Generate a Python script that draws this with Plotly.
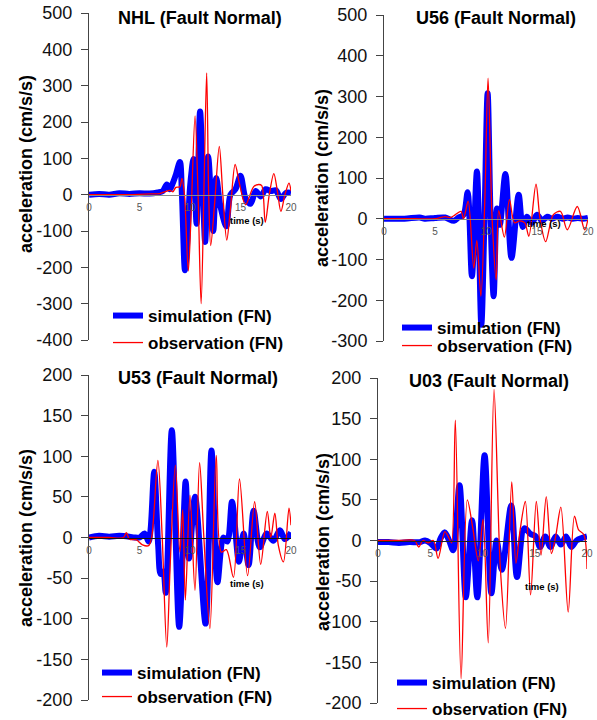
import plotly.graph_objects as go

W, H = 597, 720

# ---------------- data (time in s, acceleration in cm/s/s) ----------------
panel_titles = ["NHL (Fault Normal)", "U56 (Fault Normal)", "U53 (Fault Normal)", "U03 (Fault Normal)"]
legend_names = ["simulation (FN)", "observation (FN)"]
y_title = "acceleration (cm/s/s)"
x_ticks = [0, 5, 10, 15, 20]
y_ranges = [[-400, 500], [-300, 500], [-200, 200], [-200, 200]]
y_dticks = [100, 100, 50, 50]

nhl_sim_t = [0, 1, 2, 3, 4, 5, 6, 6.8, 7.3, 7.7, 8.0, 8.3, 8.6, 9.0, 9.2, 9.5, 9.75, 10.0, 10.35, 10.65,
             11.0, 11.5, 11.8, 12.3, 12.6, 13.0, 13.6, 14.0, 14.5, 15.0, 15.5, 16.0, 16.5, 17.0, 17.5, 18.0,
             18.5, 19.0, 19.5, 20.0]
nhl_sim_v = [0, 2, 0, 4, 2, 4, 3, 6, 10, 28, 15, 32, 55, 90, 0, -208, -120, 20, 98, -80,
             229, -130, 105, -100, 46, -30, -87, 0, 15, 52, -10, -25, 10, -5, 15, 10,
             12, -12, 5, 5]
nhl_obs_t = [0, 2, 4, 6, 7.0, 7.5, 8.0, 8.3, 8.6, 9.0, 9.2, 9.45, 9.83, 10.1, 10.5, 10.8, 11.1, 11.4, 11.65, 11.85,
             12.05, 12.45, 12.9, 13.25, 13.64, 14.0, 14.47, 14.9, 15.5, 16.3, 16.8, 17.1, 17.45, 17.85, 18.3,
             18.65, 19.0, 19.4, 19.8, 20.0]
nhl_obs_v = [0, 0, 0, 2, 3, 8, 12, 8, 20, 22, 45, 0, -210, -60, 217, 0, -300, 40, 335, 0,
             -140, -20, 133, 0, -125, -40, 83, 30, -28, 22, 28, 25, -76, 0, 58,
             10, -46, 0, 32, 10]

u56_sim_t = [0, 2, 3.5, 4, 5, 6, 6.85, 7.3, 7.8, 8.2, 8.62, 9.11, 9.54, 9.85, 10.16, 10.45, 10.75, 11.08, 11.35, 11.9,
             12.5, 13.2, 13.6, 14.0, 14.5, 15.0, 15.5, 16.0, 16.5, 17.0, 17.5, 18.0, 18.5, 19.0, 19.5, 20.0]
u56_sim_v = [0, 0, 3, 0, 2, 3, -5, 3, 10, 65, -141, 116, -260, 0, 308, 0, -190, 25, -15, 110,
             -96, 59, -20, 5, -10, 10, -5, 5, 0, 5, 0, 3, 0, 2, 0, 2]
u56_obs_t = [0, 3, 5, 5.5, 6.0, 6.5, 7.0, 7.55, 7.8, 8.25, 8.8, 9.1, 9.5, 9.9, 10.2, 10.6, 11.0, 11.25, 11.8, 12.3,
             12.8, 13.3, 13.8, 14.2, 14.9, 15.3, 15.85, 16.6, 17.3, 17.97, 18.95, 19.67, 20.0]
u56_obs_v = [0, 0, 0, 3, 5, 3, 10, 18, 0, 43, -121, -53, -190, 60, 345, 0, -150, 20, -45, 47,
             -10, -5, -10, -43, 85, 0, -56, 10, 18, -27, 30, -27, 0]

u53_sim_t = [0, 1, 2, 3, 4, 4.5, 5.0, 5.5, 5.9, 6.1, 6.46, 6.85, 7.1, 7.35, 7.6, 8.2, 8.93, 9.57, 9.9, 10.5,
             11.54, 12.13, 12.72, 13.3, 13.7, 14.16, 14.85, 15.3, 15.8, 16.3, 16.9, 17.6, 18.25, 18.9, 19.4, 20.0]
u53_sim_v = [0, 2, 1, 2, 1, 0, 0, 5, -5, 10, 81, -10, -45, -42, -68, 132, -110, 69, -26, 50,
             -106, 107, -55, 0, -5, 44, -30, 5, -34, 33, -12, 5, -4, 9, -2, 6]
u53_obs_t = [0, 2, 3.4, 3.7, 4.0, 4.7, 5.3, 5.9, 6.2, 6.82, 7.25, 7.7, 8.05, 8.55, 9.0, 9.28, 9.54, 10.0, 10.49, 10.95,
             11.35, 11.97, 12.6, 13.1, 13.6, 14.3, 14.9, 15.7, 16.4, 17.0, 17.65, 18.0, 18.4, 18.75, 19.25, 19.8, 20.0]
u53_obs_v = [0, 0, 0, 6, -2, -3, -9, -10, 0, 95, 0, -135, -30, 89, -18, 34, -77, 52, -65, 92,
             5, -112, 101, -18, -15, -49, 72, -47, 44, -33, 32, 0, 30, -10, -30, 36, 15]

u03_sim_t = [0, 1, 2, 3, 4, 4.5, 5.0, 5.6, 6.0, 6.4, 6.8, 7.2, 7.8, 8.4, 9.0, 9.5, 10.2, 10.85, 11.35, 11.85,
             12.75, 13.3, 14.0, 14.6, 15.1, 15.5, 16.0, 16.5, 17.0, 17.5, 18.0, 18.5, 19.0, 19.5, 20.0]
u03_sim_v = [-2, -2, -3, -2, -2, 0, -3, -10, 3, 10, 0, -12, 68, -70, 25, -70, 105, -65, 0, -36,
             43, -45, 15, 8, 5, -8, 5, -8, 5, -5, 5, -8, 0, 3, 5]
u03_obs_t = [0, 2, 3.5, 3.9, 4.3, 4.8, 5.3, 5.75, 6.4, 6.9, 7.05, 7.4, 7.95, 8.55, 9.05, 9.6, 10.05, 10.55, 11.1, 11.7,
             12.2, 12.8, 13.2, 13.6, 14.1, 14.6, 15.15, 15.6, 16.1, 16.6, 17.0, 17.5, 18.2, 18.8, 19.2, 19.7, 20.0]
u03_obs_v = [0, 0, 0, -8, 0, -3, 0, -22, 11, 0, -3, 148, -170, 50, 17, -25, 26, -126, 186, -32,
             -108, 72, -28, 13, 48, -67, 48, -18, 54, -16, 5, 41, -88, 30, 13, 7, -35]

sim_series = [(nhl_sim_t, nhl_sim_v), (u56_sim_t, u56_sim_v), (u53_sim_t, u53_sim_v), (u03_sim_t, u03_sim_v)]
obs_series = [(nhl_obs_t, nhl_obs_v), (u56_obs_t, u56_obs_v), (u53_obs_t, u53_obs_v), (u03_obs_t, u03_obs_v)]

# ---------------- layout geometry (window pixels) ----------------
# plot boxes: left, right, top, bottom
boxes = [(89, 291, 13, 340), (384, 588, 15, 341), (89, 291, 375, 700), (378, 587, 378, 703)]
title_pos = [(200, 18), (496, 18), (198, 378), (489, 381)]
ytitle_pos = [(26, 164), (322, 178), (26, 538), (323, 542)]
time_lbl = [(15.6, -72), (15.7, -12), (15.6, -56), (15.7, -56)]
legend_pos = [((108, 316), (108, 343)), ((397, 328), (397, 346)),
              ((97, 673), (97, 697)), ((392, 683), (392, 709))]
xaxis_colors = ["#888888", "#888888", "#111111", "#222222"]


def fx(p):
    return p / W


def fy(p):
    return 1 - p / H


FONT = "Liberation Sans, Arial, sans-serif"
BLUE = "#0000FF"
RED = "#FF0000"

fig = go.Figure()
layout = dict(
    template="none",
    width=W, height=H,
    margin=dict(l=0, r=0, t=0, b=0, autoexpand=False),
    paper_bgcolor="white", plot_bgcolor="white",
    font=dict(family=FONT, color="#000000"),
    showlegend=True,
    annotations=[],
)

for i in range(4):
    n = i + 1
    xa = "x" if n == 1 else f"x{n}"
    ya = "y" if n == 1 else f"y{n}"
    l, r, t, b = boxes[i]
    xd = [fx(l), fx(r)]
    yd = [fy(b), fy(t)]
    ymin, ymax = y_ranges[i]
    zero_pos = yd[0] + (0 - ymin) / (ymax - ymin) * (yd[1] - yd[0])
    yvals = list(range(ymin, ymax + 1, y_dticks[i]))

    lg_sim = "legend" if 2 * i + 1 == 1 else f"legend{2 * i + 1}"
    lg_obs = f"legend{2 * i + 2}"

    fig.add_trace(go.Scatter(
        x=sim_series[i][0], y=sim_series[i][1], mode="lines",
        line=dict(color=BLUE, width=6, shape="spline", smoothing=0.9),
        name=legend_names[0], xaxis=xa, yaxis=ya, legend=lg_sim, showlegend=True))
    fig.add_trace(go.Scatter(
        x=obs_series[i][0], y=obs_series[i][1], mode="lines",
        line=dict(color=RED, width=1.3, shape="spline", smoothing=0.9),
        name=legend_names[1], xaxis=xa, yaxis=ya, legend=lg_obs, showlegend=True))

    xkey = "xaxis" if n == 1 else f"xaxis{n}"
    ykey = "yaxis" if n == 1 else f"yaxis{n}"
    layout[xkey] = dict(
        domain=xd, anchor="free", position=zero_pos, range=[0, 20],
        tickvals=x_ticks, ticktext=[str(v) for v in x_ticks],
        showline=True, linecolor=xaxis_colors[i], linewidth=1.2,
        ticks="outside", ticklen=3, tickcolor="rgba(0,0,0,0)",
        tickfont=dict(size=10, color="#555555", family=FONT),
        ticklabeloverflow="allow",
        showgrid=False, zeroline=False, fixedrange=True, automargin=False,
    )
    layout[ykey] = dict(
        domain=yd, anchor=xa, range=[ymin, ymax],
        tickvals=yvals, ticktext=[str(v) for v in yvals],
        showline=True, linecolor="#444444", linewidth=1,
        ticks="outside", ticklen=7, tickcolor="#444444", ticklabelstandoff=5,
        tickfont=dict(size=18, color="#111111", family=FONT),
        ticklabeloverflow="allow",
        showgrid=False, zeroline=False, fixedrange=True, automargin=False,
    )
    for j, lg in enumerate([lg_sim, lg_obs]):
        px, py = legend_pos[i][j]
        layout[lg] = dict(
            x=fx(px), y=fy(py), xanchor="left", yanchor="middle",
            xref="paper", yref="paper", visible=True,
            bgcolor="rgba(0,0,0,0)", borderwidth=0,
            font=dict(size=17, family=FONT, weight="bold", color="#000000"),
        )
    tx, ty = title_pos[i]
    layout["annotations"].append(dict(
        text=panel_titles[i], x=fx(tx), y=fy(ty), xref="paper", yref="paper",
        xanchor="center", yanchor="middle", showarrow=False,
        font=dict(size=18, family=FONT, weight="bold", color="#000000")))
    yx, yy = ytitle_pos[i]
    layout["annotations"].append(dict(
        text=y_title, x=fx(yx), y=fy(yy), xref="paper", yref="paper",
        xanchor="center", yanchor="middle", showarrow=False, textangle=-90,
        font=dict(size=18, family=FONT, weight="bold", color="#000000")))
    lx, lyv = time_lbl[i]
    layout["annotations"].append(dict(
        text="time (s)", x=lx, y=lyv, xref=xa, yref=ya,
        xanchor="center", yanchor="middle", showarrow=False,
        font=dict(size=9.5, family=FONT, weight="bold", color="#000000")))

fig.update_layout(**layout)
fig.write_html("out.html", config={"displayModeBar": False},
               post_script="document.body.style.margin='0px';")
